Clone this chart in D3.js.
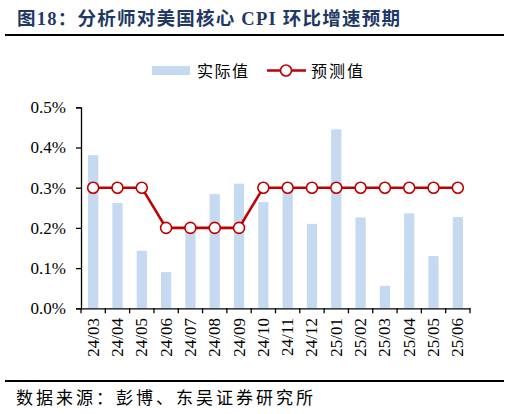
<!DOCTYPE html>
<html><head><meta charset="utf-8">
<script src="https://cdn.jsdelivr.net/npm/d3@7"></script>
<style>
html,body{margin:0;padding:0;background:#fff;}
svg{display:block;}
</style></head>
<body>
<svg id="c" width="509" height="414"></svg>
<script>
const categories = ["24/03","24/04","24/05","24/06","24/07","24/08","24/09","24/10","24/11","24/12","25/01","25/02","25/03","25/04","25/05","25/06"];
const actual = [0.381,0.262,0.143,0.090,0.19,0.284,0.310,0.264,0.30,0.210,0.445,0.226,0.056,0.236,0.130,0.227];
const forecast = [0.3,0.3,0.3,0.2,0.2,0.2,0.2,0.3,0.3,0.3,0.3,0.3,0.3,0.3,0.3,0.3];
const yTicks = [0,0.1,0.2,0.3,0.4,0.5];
const titleText = "图18：分析师对美国核心 CPI 环比增速预期";
const sourceText = "数据来源：彭博、东吴证券研究所";
const legendLabels = ["实际值","预测值"];

const serif = "'Liberation Serif','Times New Roman','Noto Sans CJK SC',serif";
const cjk = "'Liberation Serif','Noto Sans CJK SC',sans-serif";
const svg = d3.select("#c");

// title
svg.append("text").attr("x",17).attr("y",25)
  .attr("font-family",cjk).attr("font-weight","bold").attr("font-size",18.5)
  .attr("fill","#1f3864").attr("textLength",383).attr("lengthAdjust","spacing")
  .text(titleText);
svg.append("line").attr("x1",5).attr("x2",504).attr("y1",35).attr("y2",35)
  .attr("stroke","#000").attr("stroke-width",2);

// scales
const x = d3.scaleBand().domain(categories).range([81,470]).padding(0);
const y = d3.scaleLinear().domain([0,0.5]).range([308.3,107.3]);
const bw = x.bandwidth()*0.42;

// bars
svg.append("g").selectAll("rect").data(actual).join("rect")
  .attr("x",(d,i)=>x(categories[i])+x.bandwidth()/2-bw/2)
  .attr("y",d=>y(d)).attr("width",bw).attr("height",d=>y(0)-y(d))
  .attr("fill","#c5d9f1");

// y axis
const ya = svg.append("g").attr("transform","translate(81,0)")
  .call(d3.axisLeft(y).tickValues(yTicks).tickFormat(d=>d.toFixed(1)+"%").tickSize(5).tickPadding(10));
ya.select(".domain").attr("stroke","#000").attr("stroke-width",1.3);
ya.selectAll(".tick line").attr("stroke","#000").attr("stroke-width",1.3);
ya.selectAll(".tick text").attr("font-family",serif).attr("font-size",17).attr("fill","#000");

// x axis
const xa = svg.append("g").attr("transform",`translate(0,${y(0)})`)
  .call(d3.axisBottom(x).tickSize(0).tickFormat(""));
xa.select(".domain").attr("stroke","#000").attr("stroke-width",1.3);
const bounds = categories.map(c=>x(c)).concat([x.range()[1]]);
svg.append("g").selectAll("line").data(bounds).join("line")
  .attr("x1",d=>d).attr("x2",d=>d).attr("y1",y(0)).attr("y2",y(0)+5)
  .attr("stroke","#000").attr("stroke-width",1.3);
svg.append("g").selectAll("text").data(categories).join("text")
  .attr("transform",d=>`translate(${x(d)+x.bandwidth()/2},318) rotate(-90)`)
  .attr("text-anchor","end").attr("dominant-baseline","central")
  .attr("font-family",serif).attr("font-size",17).attr("fill","#000")
  .text(d=>d);

// line
const line = d3.line().x((d,i)=>x(categories[i])+x.bandwidth()/2).y(d=>y(d));
svg.append("path").datum(forecast).attr("d",line)
  .attr("fill","none").attr("stroke","#c00000").attr("stroke-width",2.6);
svg.append("g").selectAll("circle").data(forecast).join("circle")
  .attr("cx",(d,i)=>x(categories[i])+x.bandwidth()/2).attr("cy",d=>y(d)).attr("r",5.5)
  .attr("fill","#fff").attr("stroke","#c00000").attr("stroke-width",1.6);

// legend
const lg = svg.append("g");
lg.append("rect").attr("x",152).attr("y",66).attr("width",38).attr("height",9).attr("fill","#c5d9f1");
lg.append("text").attr("x",197).attr("y",76.5).attr("font-family",cjk).attr("font-size",16)
  .attr("textLength",51).attr("lengthAdjust","spacing").text(legendLabels[0]);
lg.append("line").attr("x1",267).attr("x2",306).attr("y1",70.5).attr("y2",70.5)
  .attr("stroke","#c00000").attr("stroke-width",2.6);
lg.append("circle").attr("cx",286).attr("cy",70.5).attr("r",5.5)
  .attr("fill","#fff").attr("stroke","#c00000").attr("stroke-width",1.6);
lg.append("text").attr("x",311).attr("y",76.5).attr("font-family",cjk).attr("font-size",16)
  .attr("textLength",52).attr("lengthAdjust","spacing").text(legendLabels[1]);

// source
svg.append("line").attr("x1",5).attr("x2",504).attr("y1",381).attr("y2",381)
  .attr("stroke","#000").attr("stroke-width",2);
svg.append("text").attr("x",16).attr("y",404).attr("font-family",cjk).attr("font-size",17)
  .attr("fill","#000").attr("textLength",297).attr("lengthAdjust","spacing").text(sourceText);
</script>
</body></html>
